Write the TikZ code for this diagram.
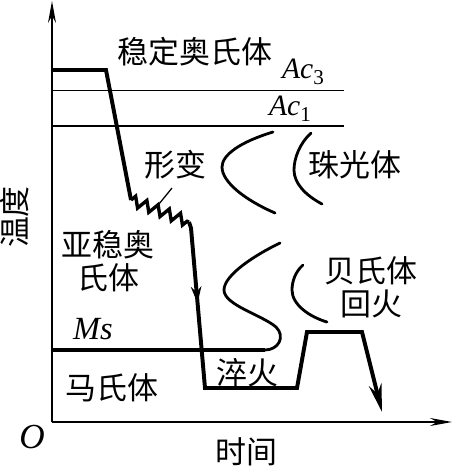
\documentclass[tikz,border=0pt]{standalone}
\usepackage{fontspec}
\setmainfont{Liberation Serif}
\newfontfamily\cjk{Noto Sans CJK SC}
\usetikzlibrary{arrows.meta,decorations.pathmorphing,decorations.markings}

\begin{document}
\begin{tikzpicture}[
	x=0.025cm, y=-0.025cm,
	thinline/.style={line width=0.9pt},
	axis/.style={
		line width=0.9pt,
		-{Stealth[length=0.55cm,width=0.2cm]}
	},
	cooling/.style={
		line width=2.8pt,
		line join=miter
	},
	ccurve/.style={
		line width=2pt,
		line cap=round
	},
	label/.style={
		font=\cjk\fontsize{22}{23.5}\selectfont,
		inner sep=0pt,
		align=center
	},
	symbol/.style={
		font=\itshape\fontsize{21}{23}\selectfont,
		inner sep=0pt
	}
	]
	\useasboundingbox (0,0) rectangle (453,468);
	
	% axes
	\coordinate (O) at (52,422);
	\coordinate (ytop) at (52,1);
	\coordinate (xend) at (452,422);
	\draw[axis] (O) -- (ytop);
	\draw[axis] (O) -- (xend);
	\node (origin) [symbol, font=\itshape\fontsize{25}{27}\selectfont] at (32,437) {O};
	\node (time) [label] at (246,452) {时间};
	\node (temp) [label, rotate=90] at (15,217) {温度};
	
	% critical temperatures
	\coordinate (ac3l) at (52,90.5);
	\coordinate (ac3r) at (344,90.5);
	\coordinate (ac1l) at (52,126);
	\coordinate (ac1r) at (344,126);
	\draw[thinline] (ac3l) -- (ac3r);
	\draw[thinline] (ac1l) -- (ac1r);
	\node (ac3) [symbol] at (303,72) {Ac\raisebox{-0.45ex}{\upshape\fontsize{15}{16}\selectfont 3}};
	\node (ac1) [symbol] at (290,109) {Ac\raisebox{-0.45ex}{\upshape\fontsize{15}{16}\selectfont 1}};
	
	% Ms line
	\coordinate (msl) at (52,350);
	\coordinate (msr) at (265,350);
	\draw[cooling] (msl) -- (msr);
	\node (ms) [symbol, font=\itshape\fontsize{23}{25}\selectfont] at (93,329) {Ms};
	
	% transformation curves
	\draw[ccurve] (273,132) .. controls (240,142) and (222,155) .. (222,167)
		.. controls (222,182) and (245,200) .. (275,213);
	\draw[ccurve] (311,133) .. controls (300,143) and (294,158) .. (294,170)
		.. controls (294,183) and (305,195) .. (322,204);
	\draw[ccurve] (280,243) .. controls (255,255) and (224,275) .. (224,290)
		.. controls (224,305) and (262,315) .. (276,327)
		.. controls (286,337) and (278,350) .. (msr);
	\draw[ccurve] (303,265) .. controls (295,272) and (292,282) .. (292,290)
		.. controls (292,305) and (310,317) .. (327,322);
	
	% cooling path
	\coordinate (hold) at (106,70);
	\coordinate (zzstart) at (131,200);
	\coordinate (zzend) at (189,222);
	\coordinate (bend) at (191,228);
	\coordinate (qleft) at (205,388);
	\coordinate (qright) at (297,388);
	\coordinate (tleft) at (307,332);
	\coordinate (tright) at (362,332);
	\coordinate (finish) at (382,412);
	\draw[cooling] (52,70) -- (hold) -- (zzstart);
	\draw[cooling, line width=2.4pt, decorate, decoration={zigzag, segment length=0.3cm, amplitude=0.13cm}] (zzstart) -- (zzend);
	\draw[cooling, -{Stealth[length=0.7cm,width=0.32cm]},
		postaction={decorate, decoration={markings,
			mark=at position 2.05cm with {\arrow{Stealth[length=0.42cm,width=0.26cm]}}}}]
		(zzend) -- (bend) -- (qleft) -- (qright) -- (tleft) -- (tright) -- (finish);
	
	% labels
	\node (stable) [label] at (195,52) {稳定奥氏体};
	\node (deform) [label] at (175,165) {形变};
	\coordinate (leadtop) at (172,188);
	\coordinate (leadend) at (159,204);
	\draw[thinline] (leadtop) -- (leadend);
	\node (pearlite) [label] at (355,165) {珠光体};
	\node (meta) [label] at (108,261) {亚稳奥\\氏体};
	\node (martensite) [label] at (112,388) {马氏体};
	\node (quench) [label] at (247,373) {淬火};
	\node (bainite) [label] at (371,287) {贝氏体\\回火};
	
\end{tikzpicture}
\end{document}
